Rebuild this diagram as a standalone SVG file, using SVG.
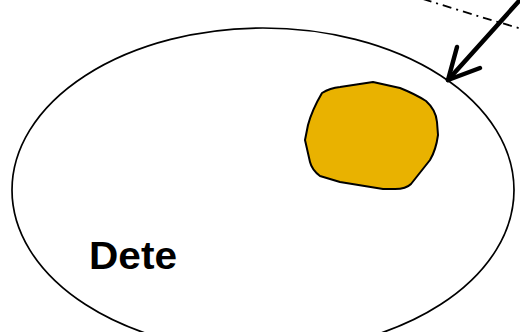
<svg xmlns="http://www.w3.org/2000/svg" width="520" height="332" viewBox="0 0 520 332">
<style>
.outline{fill:none;stroke:#000;stroke-width:1.7}
.blob{fill:#E9B200;stroke:#000;stroke-width:2;stroke-linejoin:round}
.arrow{fill:none;stroke:#000;stroke-width:4.5;stroke-linecap:round;stroke-linejoin:round}
.dashdot{fill:none;stroke:#000;stroke-width:1.8;stroke-dasharray:9 5 2 5}
.label{font-family:"Liberation Sans",Arial,sans-serif;font-weight:bold;font-size:38px;fill:#000}
</style>
<rect width="520" height="332" fill="#fff"/>
<g id="region">
<ellipse class="outline" cx="263" cy="190" rx="251" ry="162"/>
<text class="label" x="89" y="269" textLength="88" lengthAdjust="spacingAndGlyphs">Dete</text>
</g>
<g id="blob">
<path class="blob" d="M322,93 Q330,88 340,87 L373,82 L400,88 Q415,94 426,101 Q436,110 437,122 L438,135 Q436,150 430,160 L411,184 Q406,189 395,189 L383,189 L340,182 L320,176 Q312,170 310,162 L305,140 L308,125 Q312,110 322,93 Z"/>
</g>
<g id="outer-boundary">
<path class="dashdot" d="M423,-1 Q470,14 522,29"/>
</g>
<g id="connectors">
<path class="arrow" d="M519,1 L448,80"/>
<path class="arrow" d="M457,47 L448,80 L480,68"/>
</g>
</svg>
